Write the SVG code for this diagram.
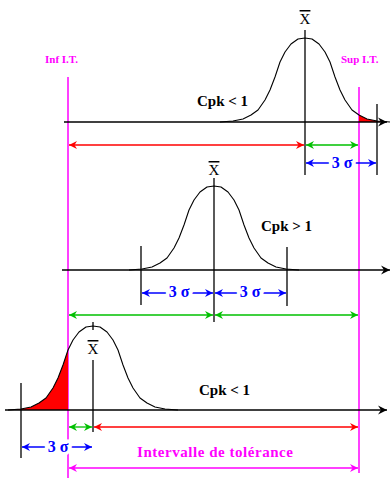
<svg xmlns="http://www.w3.org/2000/svg" width="392" height="482" viewBox="0 0 392 482">
<style>
.ax{stroke:#000;stroke-width:1.5;fill:none}
.tk{stroke:#000;stroke-width:1.3;fill:none}
.crv{stroke:#000;stroke-width:1.1;fill:none;stroke-linejoin:round}
.lim{stroke:#ff00ff;stroke-width:1.5}
.r{stroke:#ff0000;stroke-width:1.3;marker-start:url(#mr);marker-end:url(#mr)}
.g{stroke:#00c000;stroke-width:1.3;marker-start:url(#mg);marker-end:url(#mg)}
.b{stroke:#0000ff;stroke-width:1.3;marker-start:url(#mb);marker-end:url(#mb)}
.m{stroke:#ff00ff;stroke-width:1.3;marker-start:url(#mm);marker-end:url(#mm)}
.ka{marker-end:url(#mk)}
.cpk{font-family:"Liberation Serif",serif;font-weight:bold;font-size:15px;fill:#000}
.xb{font-family:"Liberation Serif",serif;font-size:15px;fill:#000;text-anchor:middle}
.sig{font-family:"Liberation Serif",serif;font-weight:bold;font-size:16px;fill:#0000ff;text-anchor:middle;stroke:#fff;stroke-width:7;paint-order:stroke}
.lt{font-family:"Liberation Serif",serif;font-weight:bold;font-size:11px;fill:#ff00ff}
.it{font-family:"Liberation Serif",serif;font-weight:bold;font-size:15px;fill:#ff00ff}
</style>
<defs>
<marker id="mr" viewBox="-9 -5 10 10" refX="0" refY="0" markerWidth="10" markerHeight="10" markerUnits="userSpaceOnUse" orient="auto-start-reverse"><path d="M0,0 L-8,-4 L-5.5,0 L-8,4 Z" fill="#ff0000"/></marker>
<marker id="mg" viewBox="-9 -5 10 10" refX="0" refY="0" markerWidth="10" markerHeight="10" markerUnits="userSpaceOnUse" orient="auto-start-reverse"><path d="M0,0 L-8,-4 L-5.5,0 L-8,4 Z" fill="#00c000"/></marker>
<marker id="mb" viewBox="-9 -5 10 10" refX="0" refY="0" markerWidth="10" markerHeight="10" markerUnits="userSpaceOnUse" orient="auto-start-reverse"><path d="M0,0 L-8,-4 L-5.5,0 L-8,4 Z" fill="#0000ff"/></marker>
<marker id="mm" viewBox="-9 -5 10 10" refX="0" refY="0" markerWidth="10" markerHeight="10" markerUnits="userSpaceOnUse" orient="auto-start-reverse"><path d="M0,0 L-8,-4 L-5.5,0 L-8,4 Z" fill="#ff00ff"/></marker>
<marker id="mk" viewBox="-9 -5 10 10" refX="0" refY="0" markerWidth="10" markerHeight="10" markerUnits="userSpaceOnUse" orient="auto"><path d="M0,0 L-9,-4.5 L-6,0 L-9,4.5 Z" fill="#000"/></marker>
<path id="bell" d="M-85,0 L-72,-1 L-62,-3 L-54,-7 L-47,-12 L-40,-22 L-35,-32 L-30,-45 L-25,-60 L-20,-70 L-14,-78 L-7,-83 L0,-84 L7,-83 L14,-78 L20,-70 L25,-60 L30,-45 L35,-32 L40,-22 L47,-12 L54,-7 L62,-3 L72,-1 L85,0"/>
</defs>

<g id="limits">
<line class="lim" x1="68" y1="77" x2="68" y2="478"/>
<line class="lim" x1="359" y1="87" x2="359" y2="473"/>
<text class="lt" x="45" y="63">Inf I.T.</text>
<text class="lt" x="341" y="63">Sup I.T.</text>
</g>

<g id="top-case">
<path d="M54,0 L54,-7 L62,-3 L72,-1 L78,0 Z" transform="translate(305,122)" fill="#ff0000"/>
<use href="#bell" class="crv" transform="translate(305,122)"/>
<line class="ax ka" x1="64" y1="122" x2="387" y2="122"/>
<line class="tk" x1="305" y1="30" x2="305" y2="175"/>
<line class="tk" x1="377" y1="104" x2="377" y2="175"/>
<text class="xb" x="305" y="24" text-decoration="overline">X</text>
<text class="cpk" x="197" y="106">Cpk &lt; 1</text>
</g>

<g id="middle-case">
<use href="#bell" class="crv" transform="translate(214,270)"/>
<line class="ax ka" x1="62" y1="270" x2="390" y2="270"/>
<line class="tk" x1="214" y1="178" x2="214" y2="322"/>
<line class="tk" x1="141" y1="246" x2="141" y2="305"/>
<line class="tk" x1="287" y1="247" x2="287" y2="306"/>
<text class="xb" x="214" y="175" text-decoration="overline">X</text>
<text class="cpk" x="261" y="231">Cpk &gt; 1</text>
</g>

<g id="bottom-case">
<path d="M-85,0 L-72,-1 L-62,-3 L-54,-7 L-47,-12 L-40,-22 L-35,-32 L-30,-45 L-25,-60 L-25,0 Z" transform="translate(93,410)" fill="#ff0000"/>
<use href="#bell" class="crv" transform="translate(93,410)"/>
<line class="ax ka" x1="5" y1="410" x2="387" y2="410"/>
<line class="tk" x1="93" y1="322" x2="93" y2="330"/>
<line class="tk" x1="93" y1="360" x2="93" y2="432"/>
<line class="tk" x1="21" y1="383" x2="21" y2="458"/>
<text class="xb" x="93" y="354" text-decoration="overline">X</text>
<text class="cpk" x="199" y="395">Cpk &lt; 1</text>
</g>

<g id="connectors">
<line class="r" x1="69" y1="145" x2="304" y2="145"/>
<line class="g" x1="306" y1="145" x2="358" y2="145"/>
<line class="b" x1="306" y1="163" x2="376" y2="163"/>
<line class="b" x1="142" y1="293" x2="213" y2="293"/>
<line class="b" x1="215" y1="293" x2="286" y2="293"/>
<line class="g" x1="69" y1="315" x2="213" y2="315"/>
<line class="g" x1="215" y1="315" x2="358" y2="315"/>
<line class="g" x1="69" y1="427" x2="92" y2="427"/>
<line class="r" x1="94" y1="427" x2="358" y2="427"/>
<line class="b" x1="22" y1="447" x2="92" y2="447"/>
<line class="m" x1="69" y1="468" x2="358" y2="468"/>
</g>

<g id="labels">
<text class="sig" x="342" y="168">3 σ</text>
<text class="sig" x="179" y="297">3 σ</text>
<text class="sig" x="250" y="297">3 σ</text>
<text class="sig" x="58" y="452">3 σ</text>
<text class="it" x="137" y="457" textLength="156">Intervalle de tolérance</text>
</g>
</svg>
